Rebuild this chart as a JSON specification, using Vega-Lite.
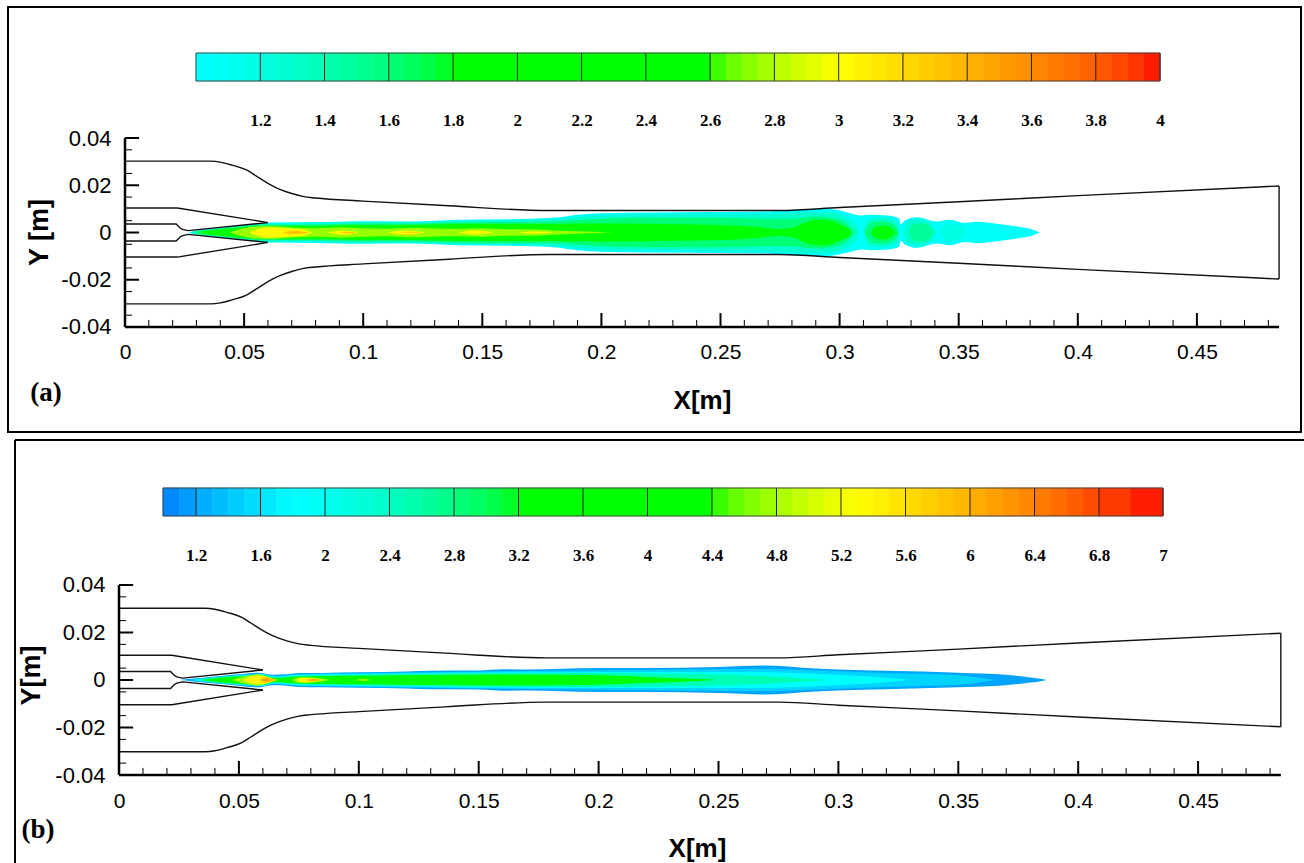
{
"$schema":"https://vega.github.io/schema/vega-lite/v6.json",
"padding":{"left":7,"top":6,"right":0,"bottom":0},
"background":"white",
"spacing":5,
"config":{"view":{"stroke":null},"axis":{"grid":false,"ticks":false,"domain":false,"labelColor":"black","titleColor":"black"}},
"resolve":{"scale":{"color":"independent","stroke":"independent"}},
"datasets":{
"walls":[
{"x":0,"y":0.0302,"curve":"outerTop"},{"x":0.036,"y":0.0302,"curve":"outerTop"},{"x":0.04,"y":0.0298,"curve":"outerTop"},{"x":0.045,"y":0.0285,"curve":"outerTop"},{"x":0.051,"y":0.0265,"curve":"outerTop"},{"x":0.055,"y":0.024,"curve":"outerTop"},{"x":0.06,"y":0.0208,"curve":"outerTop"},{"x":0.064,"y":0.0187,"curve":"outerTop"},{"x":0.07,"y":0.0165,"curve":"outerTop"},{"x":0.075,"y":0.0152,"curve":"outerTop"},{"x":0.08,"y":0.0146,"curve":"outerTop"},{"x":0.1,"y":0.0133,"curve":"outerTop"},{"x":0.136,"y":0.0113,"curve":"outerTop"},{"x":0.178,"y":0.0093,"curve":"outerTop"},{"x":0.275,"y":0.0093,"curve":"outerTop"},{"x":0.3,"y":0.0106,"curve":"outerTop"},{"x":0.35,"y":0.013,"curve":"outerTop"},{"x":0.4,"y":0.0156,"curve":"outerTop"},{"x":0.4845,"y":0.0197,"curve":"outerTop"},
{"x":0,"y":-0.0302,"curve":"outerBottom"},{"x":0.036,"y":-0.0302,"curve":"outerBottom"},{"x":0.04,"y":-0.0298,"curve":"outerBottom"},{"x":0.045,"y":-0.0285,"curve":"outerBottom"},{"x":0.051,"y":-0.0265,"curve":"outerBottom"},{"x":0.055,"y":-0.024,"curve":"outerBottom"},{"x":0.06,"y":-0.0208,"curve":"outerBottom"},{"x":0.064,"y":-0.0187,"curve":"outerBottom"},{"x":0.07,"y":-0.0165,"curve":"outerBottom"},{"x":0.075,"y":-0.0152,"curve":"outerBottom"},{"x":0.08,"y":-0.0146,"curve":"outerBottom"},{"x":0.1,"y":-0.0133,"curve":"outerBottom"},{"x":0.136,"y":-0.0113,"curve":"outerBottom"},{"x":0.178,"y":-0.0093,"curve":"outerBottom"},{"x":0.275,"y":-0.0093,"curve":"outerBottom"},{"x":0.3,"y":-0.0106,"curve":"outerBottom"},{"x":0.35,"y":-0.013,"curve":"outerBottom"},{"x":0.4,"y":-0.0156,"curve":"outerBottom"},{"x":0.4845,"y":-0.0197,"curve":"outerBottom"},
{"x":0.4845,"y":0.0197,"curve":"outlet"},{"x":0.4845,"y":-0.0197,"curve":"outlet"},
{"x":0,"y":0.0104,"curve":"nozzleTop"},{"x":0.022,"y":0.0104,"curve":"nozzleTop"},{"x":0.06,"y":0.0042,"curve":"nozzleTop"},
{"x":0,"y":-0.0104,"curve":"nozzleBottom"},{"x":0.022,"y":-0.0104,"curve":"nozzleBottom"},{"x":0.06,"y":-0.0042,"curve":"nozzleBottom"},
{"x":0,"y":0.0036,"curve":"innerTop"},{"x":0.0215,"y":0.0036,"curve":"innerTop"},{"x":0.0225,"y":0.0025,"curve":"innerTop"},{"x":0.0235,"y":0.0016,"curve":"innerTop"},{"x":0.0245,"y":0.0012,"curve":"innerTop"},{"x":0.0265,"y":0.0008,"curve":"innerTop"},{"x":0.06,"y":0.0042,"curve":"innerTop"},
{"x":0,"y":-0.0036,"curve":"innerBottom"},{"x":0.0215,"y":-0.0036,"curve":"innerBottom"},{"x":0.0225,"y":-0.0025,"curve":"innerBottom"},{"x":0.0235,"y":-0.0016,"curve":"innerBottom"},{"x":0.0245,"y":-0.0012,"curve":"innerBottom"},{"x":0.0265,"y":-0.0008,"curve":"innerBottom"},{"x":0.06,"y":-0.0042,"curve":"innerBottom"}
],
"xMajor":[{"x":0},{"x":0.05},{"x":0.1},{"x":0.15},{"x":0.2},{"x":0.25},{"x":0.3},{"x":0.35},{"x":0.4},{"x":0.45}],
"xMinor":[{"x":0.01},{"x":0.02},{"x":0.03},{"x":0.04},{"x":0.06},{"x":0.07},{"x":0.08},{"x":0.09},{"x":0.11},{"x":0.12},{"x":0.13},{"x":0.14},{"x":0.16},{"x":0.17},{"x":0.18},{"x":0.19},{"x":0.21},{"x":0.22},{"x":0.23},{"x":0.24},{"x":0.26},{"x":0.27},{"x":0.28},{"x":0.29},{"x":0.31},{"x":0.32},{"x":0.33},{"x":0.34},{"x":0.36},{"x":0.37},{"x":0.38},{"x":0.39},{"x":0.41},{"x":0.42},{"x":0.43},{"x":0.44},{"x":0.46},{"x":0.47},{"x":0.48}],
"yMajor":[{"y":-0.04},{"y":-0.02},{"y":0},{"y":0.02},{"y":0.04}],
"yMinor":[{"y":-0.035},{"y":-0.025},{"y":-0.015},{"y":-0.005},{"y":0.005},{"y":0.015},{"y":0.025},{"y":0.035}],
"axisLines":[{"x":0,"x2":0.4845,"y":-0.04,"y2":-0.04},{"x":0,"x2":0,"y":-0.04,"y2":0.04}],
"jetA":[
{"blob":"a1","level":1.05,"x":0.0265,"y":0,"y2":0},{"blob":"a1","level":1.05,"x":0.03,"y":0.0008,"y2":-0.0008},{"blob":"a1","level":1.05,"x":0.04,"y":0.0019,"y2":-0.0019},{"blob":"a1","level":1.05,"x":0.05,"y":0.003,"y2":-0.003},{"blob":"a1","level":1.05,"x":0.06,"y":0.0042,"y2":-0.0042},{"blob":"a1","level":1.05,"x":0.08,"y":0.0044,"y2":-0.0044},{"blob":"a1","level":1.05,"x":0.1,"y":0.0048,"y2":-0.0048},{"blob":"a1","level":1.05,"x":0.12,"y":0.0047,"y2":-0.0047},{"blob":"a1","level":1.05,"x":0.14,"y":0.0054,"y2":-0.0054},{"blob":"a1","level":1.05,"x":0.16,"y":0.0056,"y2":-0.0056},{"blob":"a1","level":1.05,"x":0.18,"y":0.0062,"y2":-0.0062},{"blob":"a1","level":1.05,"x":0.19,"y":0.0075,"y2":-0.0075},{"blob":"a1","level":1.05,"x":0.2,"y":0.0082,"y2":-0.0082},{"blob":"a1","level":1.05,"x":0.22,"y":0.0085,"y2":-0.0085},{"blob":"a1","level":1.05,"x":0.25,"y":0.0087,"y2":-0.0087},{"blob":"a1","level":1.05,"x":0.27,"y":0.0089,"y2":-0.0089},{"blob":"a1","level":1.05,"x":0.285,"y":0.0098,"y2":-0.0098},{"blob":"a1","level":1.05,"x":0.295,"y":0.0099,"y2":-0.0099},{"blob":"a1","level":1.05,"x":0.303,"y":0.0086,"y2":-0.0086},{"blob":"a1","level":1.05,"x":0.309,"y":0.0072,"y2":-0.0072},{"blob":"a1","level":1.05,"x":0.313,"y":0.0075,"y2":-0.0075},{"blob":"a1","level":1.05,"x":0.32,"y":0.0072,"y2":-0.0072},{"blob":"a1","level":1.05,"x":0.325,"y":0.006,"y2":-0.006},{"blob":"a1","level":1.05,"x":0.3256,"y":0.0035,"y2":-0.0035},{"blob":"a1","level":1.05,"x":0.3275,"y":0.0052,"y2":-0.0052},{"blob":"a1","level":1.05,"x":0.3325,"y":0.0065,"y2":-0.0065},{"blob":"a1","level":1.05,"x":0.3408,"y":0.0047,"y2":-0.0047},{"blob":"a1","level":1.05,"x":0.3463,"y":0.0054,"y2":-0.0054},{"blob":"a1","level":1.05,"x":0.3526,"y":0.004,"y2":-0.004},{"blob":"a1","level":1.05,"x":0.3576,"y":0.0045,"y2":-0.0045},{"blob":"a1","level":1.05,"x":0.366,"y":0.0037,"y2":-0.0037},{"blob":"a1","level":1.05,"x":0.3745,"y":0.0025,"y2":-0.0025},{"blob":"a1","level":1.05,"x":0.3812,"y":0.0012,"y2":-0.0012},{"blob":"a1","level":1.05,"x":0.3841,"y":0,"y2":0},
{"blob":"a2","level":1.3,"x":0.028,"y":0.0004,"y2":-0.0004},{"blob":"a2","level":1.3,"x":0.04,"y":0.0018,"y2":-0.0018},{"blob":"a2","level":1.3,"x":0.06,"y":0.0037,"y2":-0.0037},{"blob":"a2","level":1.3,"x":0.08,"y":0.0038,"y2":-0.0038},{"blob":"a2","level":1.3,"x":0.1,"y":0.0043,"y2":-0.0043},{"blob":"a2","level":1.3,"x":0.12,"y":0.0042,"y2":-0.0042},{"blob":"a2","level":1.3,"x":0.14,"y":0.0048,"y2":-0.0048},{"blob":"a2","level":1.3,"x":0.16,"y":0.005,"y2":-0.005},{"blob":"a2","level":1.3,"x":0.18,"y":0.0055,"y2":-0.0055},{"blob":"a2","level":1.3,"x":0.19,"y":0.0066,"y2":-0.0066},{"blob":"a2","level":1.3,"x":0.2,"y":0.0072,"y2":-0.0072},{"blob":"a2","level":1.3,"x":0.22,"y":0.0075,"y2":-0.0075},{"blob":"a2","level":1.3,"x":0.25,"y":0.0077,"y2":-0.0077},{"blob":"a2","level":1.3,"x":0.27,"y":0.0079,"y2":-0.0079},{"blob":"a2","level":1.3,"x":0.285,"y":0.0086,"y2":-0.0086},{"blob":"a2","level":1.3,"x":0.295,"y":0.0086,"y2":-0.0086},{"blob":"a2","level":1.3,"x":0.303,"y":0.0062,"y2":-0.0062},{"blob":"a2","level":1.3,"x":0.3075,"y":0.002,"y2":-0.002},{"blob":"a2","level":1.3,"x":0.308,"y":0,"y2":0},
{"blob":"a2b","level":1.3,"x":0.31,"y":0,"y2":0},{"blob":"a2b","level":1.3,"x":0.312,"y":0.0055,"y2":-0.0055},{"blob":"a2b","level":1.3,"x":0.318,"y":0.0062,"y2":-0.0062},{"blob":"a2b","level":1.3,"x":0.324,"y":0.0046,"y2":-0.0046},{"blob":"a2b","level":1.3,"x":0.3252,"y":0,"y2":0},
{"blob":"a2c","level":1.3,"x":0.327,"y":0,"y2":0},{"blob":"a2c","level":1.3,"x":0.329,"y":0.005,"y2":-0.005},{"blob":"a2c","level":1.3,"x":0.333,"y":0.0055,"y2":-0.0055},{"blob":"a2c","level":1.3,"x":0.338,"y":0.0042,"y2":-0.0042},{"blob":"a2c","level":1.3,"x":0.3405,"y":0,"y2":0},
{"blob":"a2d","level":1.2,"x":0.342,"y":0,"y2":0},{"blob":"a2d","level":1.2,"x":0.346,"y":0.0038,"y2":-0.0038},{"blob":"a2d","level":1.2,"x":0.351,"y":0.0025,"y2":-0.0025},{"blob":"a2d","level":1.2,"x":0.353,"y":0,"y2":0},
{"blob":"a3","level":1.6,"x":0.03,"y":0.0006,"y2":-0.0006},{"blob":"a3","level":1.6,"x":0.04,"y":0.0016,"y2":-0.0016},{"blob":"a3","level":1.6,"x":0.06,"y":0.0033,"y2":-0.0033},{"blob":"a3","level":1.6,"x":0.08,"y":0.0033,"y2":-0.0033},{"blob":"a3","level":1.6,"x":0.1,"y":0.0038,"y2":-0.0038},{"blob":"a3","level":1.6,"x":0.12,"y":0.0037,"y2":-0.0037},{"blob":"a3","level":1.6,"x":0.14,"y":0.0043,"y2":-0.0043},{"blob":"a3","level":1.6,"x":0.16,"y":0.0044,"y2":-0.0044},{"blob":"a3","level":1.6,"x":0.18,"y":0.0046,"y2":-0.0046},{"blob":"a3","level":1.6,"x":0.2,"y":0.0058,"y2":-0.0058},{"blob":"a3","level":1.6,"x":0.22,"y":0.0062,"y2":-0.0062},{"blob":"a3","level":1.6,"x":0.25,"y":0.0062,"y2":-0.0062},{"blob":"a3","level":1.6,"x":0.27,"y":0.0058,"y2":-0.0058},{"blob":"a3","level":1.6,"x":0.28,"y":0.0058,"y2":-0.0058},{"blob":"a3","level":1.6,"x":0.29,"y":0.0068,"y2":-0.0068},{"blob":"a3","level":1.6,"x":0.3,"y":0.0055,"y2":-0.0055},{"blob":"a3","level":1.6,"x":0.305,"y":0.0018,"y2":-0.0018},{"blob":"a3","level":1.6,"x":0.3065,"y":0,"y2":0},
{"blob":"a3b","level":1.6,"x":0.3105,"y":0,"y2":0},{"blob":"a3b","level":1.6,"x":0.3135,"y":0.0042,"y2":-0.0042},{"blob":"a3b","level":1.6,"x":0.318,"y":0.0048,"y2":-0.0048},{"blob":"a3b","level":1.6,"x":0.323,"y":0.0032,"y2":-0.0032},{"blob":"a3b","level":1.6,"x":0.325,"y":0,"y2":0},
{"blob":"a3c","level":1.5,"x":0.329,"y":0,"y2":0},{"blob":"a3c","level":1.5,"x":0.331,"y":0.0035,"y2":-0.0035},{"blob":"a3c","level":1.5,"x":0.335,"y":0.0038,"y2":-0.0038},{"blob":"a3c","level":1.5,"x":0.338,"y":0.0022,"y2":-0.0022},{"blob":"a3c","level":1.5,"x":0.3395,"y":0,"y2":0},
{"blob":"a4","level":1.9,"x":0.032,"y":0.0005,"y2":-0.0005},{"blob":"a4","level":1.9,"x":0.04,"y":0.0014,"y2":-0.0014},{"blob":"a4","level":1.9,"x":0.06,"y":0.0029,"y2":-0.0029},{"blob":"a4","level":1.9,"x":0.08,"y":0.0029,"y2":-0.0029},{"blob":"a4","level":1.9,"x":0.1,"y":0.0032,"y2":-0.0032},{"blob":"a4","level":1.9,"x":0.12,"y":0.0032,"y2":-0.0032},{"blob":"a4","level":1.9,"x":0.14,"y":0.0036,"y2":-0.0036},{"blob":"a4","level":1.9,"x":0.16,"y":0.0036,"y2":-0.0036},{"blob":"a4","level":1.9,"x":0.18,"y":0.0036,"y2":-0.0036},{"blob":"a4","level":1.9,"x":0.19,"y":0.0038,"y2":-0.0038},{"blob":"a4","level":1.9,"x":0.21,"y":0.0038,"y2":-0.0038},{"blob":"a4","level":1.9,"x":0.23,"y":0.0035,"y2":-0.0035},{"blob":"a4","level":1.9,"x":0.25,"y":0.0032,"y2":-0.0032},{"blob":"a4","level":1.9,"x":0.265,"y":0.0024,"y2":-0.0024},{"blob":"a4","level":1.9,"x":0.275,"y":0.0015,"y2":-0.0015},{"blob":"a4","level":1.9,"x":0.281,"y":0.0022,"y2":-0.0022},{"blob":"a4","level":1.9,"x":0.285,"y":0.004,"y2":-0.004},{"blob":"a4","level":1.9,"x":0.29,"y":0.0054,"y2":-0.0054},{"blob":"a4","level":1.9,"x":0.295,"y":0.0053,"y2":-0.0053},{"blob":"a4","level":1.9,"x":0.3,"y":0.0035,"y2":-0.0035},{"blob":"a4","level":1.9,"x":0.3045,"y":0.0008,"y2":-0.0008},{"blob":"a4","level":1.9,"x":0.305,"y":0,"y2":0},
{"blob":"a4c","level":1.85,"x":0.313,"y":0,"y2":0},{"blob":"a4c","level":1.85,"x":0.3155,"y":0.0025,"y2":-0.0025},{"blob":"a4c","level":1.85,"x":0.3185,"y":0.003,"y2":-0.003},{"blob":"a4c","level":1.85,"x":0.322,"y":0.0018,"y2":-0.0018},{"blob":"a4c","level":1.85,"x":0.3235,"y":0,"y2":0},
{"blob":"a5","level":2.75,"x":0.044,"y":0,"y2":0},{"blob":"a5","level":2.75,"x":0.05,"y":0.0018,"y2":-0.0018},{"blob":"a5","level":2.75,"x":0.06,"y":0.0028,"y2":-0.0028},{"blob":"a5","level":2.75,"x":0.065,"y":0.0025,"y2":-0.0025},{"blob":"a5","level":2.75,"x":0.07,"y":0.0021,"y2":-0.0021},{"blob":"a5","level":2.75,"x":0.08,"y":0.0018,"y2":-0.0018},{"blob":"a5","level":2.75,"x":0.09,"y":0.0021,"y2":-0.0021},{"blob":"a5","level":2.75,"x":0.1,"y":0.0018,"y2":-0.0018},{"blob":"a5","level":2.75,"x":0.11,"y":0.0016,"y2":-0.0016},{"blob":"a5","level":2.75,"x":0.12,"y":0.002,"y2":-0.002},{"blob":"a5","level":2.75,"x":0.13,"y":0.0017,"y2":-0.0017},{"blob":"a5","level":2.75,"x":0.14,"y":0.0016,"y2":-0.0016},{"blob":"a5","level":2.75,"x":0.15,"y":0.0018,"y2":-0.0018},{"blob":"a5","level":2.75,"x":0.16,"y":0.0014,"y2":-0.0014},{"blob":"a5","level":2.75,"x":0.17,"y":0.0014,"y2":-0.0014},{"blob":"a5","level":2.75,"x":0.18,"y":0.0009,"y2":-0.0009},{"blob":"a5","level":2.75,"x":0.19,"y":0.0005,"y2":-0.0005},{"blob":"a5","level":2.75,"x":0.205,"y":0,"y2":0},
{"blob":"a6","level":3.05,"x":0.052,"y":0,"y2":0},{"blob":"a6","level":3.05,"x":0.056,"y":0.0015,"y2":-0.0015},{"blob":"a6","level":3.05,"x":0.06,"y":0.0021,"y2":-0.0021},{"blob":"a6","level":3.05,"x":0.066,"y":0.0019,"y2":-0.0019},{"blob":"a6","level":3.05,"x":0.074,"y":0.0014,"y2":-0.0014},{"blob":"a6","level":3.05,"x":0.079,"y":0,"y2":0},
{"blob":"a6b","level":3.05,"x":0.085,"y":0,"y2":0},{"blob":"a6b","level":3.05,"x":0.092,"y":0.0009,"y2":-0.0009},{"blob":"a6b","level":3.05,"x":0.098,"y":0,"y2":0},
{"blob":"a6c","level":3.05,"x":0.11,"y":0,"y2":0},{"blob":"a6c","level":3.05,"x":0.118,"y":0.0009,"y2":-0.0009},{"blob":"a6c","level":3.05,"x":0.126,"y":0,"y2":0},
{"blob":"a6d","level":3.05,"x":0.14,"y":0,"y2":0},{"blob":"a6d","level":3.05,"x":0.147,"y":0.0008,"y2":-0.0008},{"blob":"a6d","level":3.05,"x":0.155,"y":0,"y2":0},
{"blob":"a6e","level":3.05,"x":0.165,"y":0,"y2":0},{"blob":"a6e","level":3.05,"x":0.172,"y":0.0004,"y2":-0.0004},{"blob":"a6e","level":3.05,"x":0.18,"y":0,"y2":0},
{"blob":"a7","level":3.35,"x":0.066,"y":0,"y2":0},{"blob":"a7","level":3.35,"x":0.071,"y":0.0006,"y2":-0.0006},{"blob":"a7","level":3.35,"x":0.077,"y":0,"y2":0},
{"blob":"a7b","level":3.35,"x":0.09,"y":0,"y2":0},{"blob":"a7b","level":3.35,"x":0.0935,"y":0.0003,"y2":-0.0003},{"blob":"a7b","level":3.35,"x":0.097,"y":0,"y2":0},
{"blob":"a7c","level":3.25,"x":0.116,"y":0,"y2":0},{"blob":"a7c","level":3.25,"x":0.12,"y":0.0003,"y2":-0.0003},{"blob":"a7c","level":3.25,"x":0.124,"y":0,"y2":0}
],
"jetB":[
{"blob":"b1","level":1.2,"x":0.0254,"y":0,"y2":0},{"blob":"b1","level":1.2,"x":0.03,"y":0.0005,"y2":-0.0005},{"blob":"b1","level":1.2,"x":0.04,"y":0.0015,"y2":-0.0015},{"blob":"b1","level":1.2,"x":0.05,"y":0.0024,"y2":-0.0024},{"blob":"b1","level":1.2,"x":0.058,"y":0.0031,"y2":-0.0031},{"blob":"b1","level":1.2,"x":0.06,"y":0.0028,"y2":-0.0028},{"blob":"b1","level":1.2,"x":0.064,"y":0.0022,"y2":-0.0022},{"blob":"b1","level":1.2,"x":0.07,"y":0.0024,"y2":-0.0024},{"blob":"b1","level":1.2,"x":0.075,"y":0.0029,"y2":-0.0029},{"blob":"b1","level":1.2,"x":0.085,"y":0.003,"y2":-0.003},{"blob":"b1","level":1.2,"x":0.1,"y":0.0033,"y2":-0.0033},{"blob":"b1","level":1.2,"x":0.12,"y":0.0036,"y2":-0.0036},{"blob":"b1","level":1.2,"x":0.13,"y":0.0039,"y2":-0.0039},{"blob":"b1","level":1.2,"x":0.15,"y":0.004,"y2":-0.004},{"blob":"b1","level":1.2,"x":0.16,"y":0.0045,"y2":-0.0045},{"blob":"b1","level":1.2,"x":0.17,"y":0.0044,"y2":-0.0044},{"blob":"b1","level":1.2,"x":0.2,"y":0.005,"y2":-0.005},{"blob":"b1","level":1.2,"x":0.22,"y":0.005,"y2":-0.005},{"blob":"b1","level":1.2,"x":0.25,"y":0.0055,"y2":-0.0055},{"blob":"b1","level":1.2,"x":0.27,"y":0.0061,"y2":-0.0061},{"blob":"b1","level":1.2,"x":0.276,"y":0.0059,"y2":-0.0059},{"blob":"b1","level":1.2,"x":0.285,"y":0.0052,"y2":-0.0052},{"blob":"b1","level":1.2,"x":0.3,"y":0.0044,"y2":-0.0044},{"blob":"b1","level":1.2,"x":0.32,"y":0.0039,"y2":-0.0039},{"blob":"b1","level":1.2,"x":0.35,"y":0.0031,"y2":-0.0031},{"blob":"b1","level":1.2,"x":0.37,"y":0.0022,"y2":-0.0022},{"blob":"b1","level":1.2,"x":0.38,"y":0.0011,"y2":-0.0011},{"blob":"b1","level":1.2,"x":0.385,"y":0.0004,"y2":-0.0004},{"blob":"b1","level":1.2,"x":0.3868,"y":0,"y2":0},
{"blob":"b2","level":1.5,"x":0.03,"y":0.0002,"y2":-0.0002},{"blob":"b2","level":1.5,"x":0.04,"y":0.0013,"y2":-0.0013},{"blob":"b2","level":1.5,"x":0.06,"y":0.0026,"y2":-0.0026},{"blob":"b2","level":1.5,"x":0.065,"y":0.0017,"y2":-0.0017},{"blob":"b2","level":1.5,"x":0.075,"y":0.0024,"y2":-0.0024},{"blob":"b2","level":1.5,"x":0.1,"y":0.0028,"y2":-0.0028},{"blob":"b2","level":1.5,"x":0.13,"y":0.0033,"y2":-0.0033},{"blob":"b2","level":1.5,"x":0.16,"y":0.0037,"y2":-0.0037},{"blob":"b2","level":1.5,"x":0.2,"y":0.0041,"y2":-0.0041},{"blob":"b2","level":1.5,"x":0.25,"y":0.0045,"y2":-0.0045},{"blob":"b2","level":1.5,"x":0.27,"y":0.0046,"y2":-0.0046},{"blob":"b2","level":1.5,"x":0.29,"y":0.004,"y2":-0.004},{"blob":"b2","level":1.5,"x":0.32,"y":0.0029,"y2":-0.0029},{"blob":"b2","level":1.5,"x":0.35,"y":0.002,"y2":-0.002},{"blob":"b2","level":1.5,"x":0.365,"y":0,"y2":0},
{"blob":"b3","level":1.85,"x":0.032,"y":0.0003,"y2":-0.0003},{"blob":"b3","level":1.85,"x":0.04,"y":0.0011,"y2":-0.0011},{"blob":"b3","level":1.85,"x":0.06,"y":0.0024,"y2":-0.0024},{"blob":"b3","level":1.85,"x":0.065,"y":0.0014,"y2":-0.0014},{"blob":"b3","level":1.85,"x":0.075,"y":0.0022,"y2":-0.0022},{"blob":"b3","level":1.85,"x":0.1,"y":0.0025,"y2":-0.0025},{"blob":"b3","level":1.85,"x":0.13,"y":0.0029,"y2":-0.0029},{"blob":"b3","level":1.85,"x":0.16,"y":0.0032,"y2":-0.0032},{"blob":"b3","level":1.85,"x":0.2,"y":0.0034,"y2":-0.0034},{"blob":"b3","level":1.85,"x":0.25,"y":0.0034,"y2":-0.0034},{"blob":"b3","level":1.85,"x":0.27,"y":0.0033,"y2":-0.0033},{"blob":"b3","level":1.85,"x":0.29,"y":0.0026,"y2":-0.0026},{"blob":"b3","level":1.85,"x":0.305,"y":0.0019,"y2":-0.0019},{"blob":"b3","level":1.85,"x":0.32,"y":0.0009,"y2":-0.0009},{"blob":"b3","level":1.85,"x":0.33,"y":0,"y2":0},
{"blob":"b4","level":2.5,"x":0.034,"y":0.0003,"y2":-0.0003},{"blob":"b4","level":2.5,"x":0.04,"y":0.0009,"y2":-0.0009},{"blob":"b4","level":2.5,"x":0.06,"y":0.0021,"y2":-0.0021},{"blob":"b4","level":2.5,"x":0.065,"y":0.0011,"y2":-0.0011},{"blob":"b4","level":2.5,"x":0.075,"y":0.0019,"y2":-0.0019},{"blob":"b4","level":2.5,"x":0.1,"y":0.0022,"y2":-0.0022},{"blob":"b4","level":2.5,"x":0.13,"y":0.0026,"y2":-0.0026},{"blob":"b4","level":2.5,"x":0.16,"y":0.0028,"y2":-0.0028},{"blob":"b4","level":2.5,"x":0.2,"y":0.0029,"y2":-0.0029},{"blob":"b4","level":2.5,"x":0.23,"y":0.0026,"y2":-0.0026},{"blob":"b4","level":2.5,"x":0.26,"y":0.002,"y2":-0.002},{"blob":"b4","level":2.5,"x":0.28,"y":0.0011,"y2":-0.0011},{"blob":"b4","level":2.5,"x":0.295,"y":0,"y2":0},
{"blob":"b5","level":3.3,"x":0.036,"y":0.0003,"y2":-0.0003},{"blob":"b5","level":3.3,"x":0.04,"y":0.0007,"y2":-0.0007},{"blob":"b5","level":3.3,"x":0.06,"y":0.0019,"y2":-0.0019},{"blob":"b5","level":3.3,"x":0.065,"y":0.0008,"y2":-0.0008},{"blob":"b5","level":3.3,"x":0.075,"y":0.0015,"y2":-0.0015},{"blob":"b5","level":3.3,"x":0.1,"y":0.0018,"y2":-0.0018},{"blob":"b5","level":3.3,"x":0.13,"y":0.0021,"y2":-0.0021},{"blob":"b5","level":3.3,"x":0.16,"y":0.0023,"y2":-0.0023},{"blob":"b5","level":3.3,"x":0.195,"y":0.0021,"y2":-0.0021},{"blob":"b5","level":3.3,"x":0.22,"y":0.0013,"y2":-0.0013},{"blob":"b5","level":3.3,"x":0.24,"y":0.0005,"y2":-0.0005},{"blob":"b5","level":3.3,"x":0.25,"y":0,"y2":0},
{"blob":"b6","level":4.8,"x":0.047,"y":0,"y2":0},{"blob":"b6","level":4.8,"x":0.052,"y":0.0014,"y2":-0.0014},{"blob":"b6","level":4.8,"x":0.058,"y":0.0024,"y2":-0.0024},{"blob":"b6","level":4.8,"x":0.062,"y":0.0012,"y2":-0.0012},{"blob":"b6","level":4.8,"x":0.066,"y":0,"y2":0},
{"blob":"b6b","level":4.8,"x":0.072,"y":0,"y2":0},{"blob":"b6b","level":4.8,"x":0.076,"y":0.0012,"y2":-0.0012},{"blob":"b6b","level":4.8,"x":0.082,"y":0.0009,"y2":-0.0009},{"blob":"b6b","level":4.8,"x":0.088,"y":0,"y2":0},
{"blob":"b6c","level":4.7,"x":0.099,"y":0,"y2":0},{"blob":"b6c","level":4.7,"x":0.102,"y":0.0005,"y2":-0.0005},{"blob":"b6c","level":4.7,"x":0.105,"y":0,"y2":0},
{"blob":"b7","level":5.4,"x":0.052,"y":0,"y2":0},{"blob":"b7","level":5.4,"x":0.056,"y":0.0016,"y2":-0.0016},{"blob":"b7","level":5.4,"x":0.06,"y":0.0018,"y2":-0.0018},{"blob":"b7","level":5.4,"x":0.063,"y":0.0009,"y2":-0.0009},{"blob":"b7","level":5.4,"x":0.066,"y":0,"y2":0},
{"blob":"b7b","level":5.4,"x":0.074,"y":0,"y2":0},{"blob":"b7b","level":5.4,"x":0.077,"y":0.001,"y2":-0.001},{"blob":"b7b","level":5.4,"x":0.081,"y":0.0006,"y2":-0.0006},{"blob":"b7b","level":5.4,"x":0.084,"y":0,"y2":0},
{"blob":"b8","level":6.1,"x":0.059,"y":0,"y2":0},{"blob":"b8","level":6.1,"x":0.061,"y":0.0009,"y2":-0.0009},{"blob":"b8","level":6.1,"x":0.063,"y":0.0005,"y2":-0.0005},{"blob":"b8","level":6.1,"x":0.0655,"y":0,"y2":0},
{"blob":"b8b","level":6.1,"x":0.078,"y":0,"y2":0},{"blob":"b8b","level":6.1,"x":0.081,"y":0.0004,"y2":-0.0004},{"blob":"b8b","level":6.1,"x":0.084,"y":0,"y2":0}
],
"barA":[
{"low":1,"high":1.05,"value":1.025},{"low":1.05,"high":1.1,"value":1.075},{"low":1.1,"high":1.15,"value":1.125},{"low":1.15,"high":1.2,"value":1.175},{"low":1.2,"high":1.25,"value":1.225},{"low":1.25,"high":1.3,"value":1.275},{"low":1.3,"high":1.35,"value":1.325},{"low":1.35,"high":1.4,"value":1.375},{"low":1.4,"high":1.45,"value":1.425},{"low":1.45,"high":1.5,"value":1.475},{"low":1.5,"high":1.55,"value":1.525},{"low":1.55,"high":1.6,"value":1.575},{"low":1.6,"high":1.65,"value":1.625},{"low":1.65,"high":1.7,"value":1.675},{"low":1.7,"high":1.75,"value":1.725},{"low":1.75,"high":1.8,"value":1.775},
{"low":1.8,"high":2.6,"value":2.2},
{"low":2.6,"high":2.65,"value":2.625},{"low":2.65,"high":2.7,"value":2.675},{"low":2.7,"high":2.75,"value":2.725},{"low":2.75,"high":2.8,"value":2.775},{"low":2.8,"high":2.85,"value":2.825},{"low":2.85,"high":2.9,"value":2.875},{"low":2.9,"high":2.95,"value":2.925},{"low":2.95,"high":3,"value":2.975},
{"low":3,"high":3.05,"value":3.025},{"low":3.05,"high":3.1,"value":3.075},{"low":3.1,"high":3.15,"value":3.125},{"low":3.15,"high":3.2,"value":3.175},{"low":3.2,"high":3.25,"value":3.225},{"low":3.25,"high":3.3,"value":3.275},{"low":3.3,"high":3.35,"value":3.325},{"low":3.35,"high":3.4,"value":3.375},{"low":3.4,"high":3.45,"value":3.425},{"low":3.45,"high":3.5,"value":3.475},{"low":3.5,"high":3.55,"value":3.525},{"low":3.55,"high":3.6,"value":3.575},{"low":3.6,"high":3.65,"value":3.625},{"low":3.65,"high":3.7,"value":3.675},{"low":3.7,"high":3.75,"value":3.725},{"low":3.75,"high":3.8,"value":3.775},{"low":3.8,"high":3.85,"value":3.825},{"low":3.85,"high":3.9,"value":3.875},{"low":3.9,"high":3.95,"value":3.925},{"low":3.95,"high":4,"value":3.975}
],
"barB":[
{"low":1,"high":1.1,"value":1.05},{"low":1.1,"high":1.2,"value":1.15},{"low":1.2,"high":1.3,"value":1.25},{"low":1.3,"high":1.4,"value":1.35},{"low":1.4,"high":1.5,"value":1.45},{"low":1.5,"high":1.6,"value":1.55},{"low":1.6,"high":1.7,"value":1.65},{"low":1.7,"high":1.8,"value":1.75},{"low":1.8,"high":1.9,"value":1.85},{"low":1.9,"high":2,"value":1.95},{"low":2,"high":2.1,"value":2.05},{"low":2.1,"high":2.2,"value":2.15},{"low":2.2,"high":2.3,"value":2.25},{"low":2.3,"high":2.4,"value":2.35},{"low":2.4,"high":2.5,"value":2.45},{"low":2.5,"high":2.6,"value":2.55},{"low":2.6,"high":2.7,"value":2.65},{"low":2.7,"high":2.8,"value":2.75},{"low":2.8,"high":2.9,"value":2.85},{"low":2.9,"high":3,"value":2.95},{"low":3,"high":3.1,"value":3.05},{"low":3.1,"high":3.2,"value":3.15},
{"low":3.2,"high":4.4,"value":3.8},
{"low":4.4,"high":4.5,"value":4.45},{"low":4.5,"high":4.6,"value":4.55},{"low":4.6,"high":4.7,"value":4.65},{"low":4.7,"high":4.8,"value":4.75},{"low":4.8,"high":4.9,"value":4.85},{"low":4.9,"high":5,"value":4.95},{"low":5,"high":5.1,"value":5.05},{"low":5.1,"high":5.2,"value":5.15},{"low":5.2,"high":5.3,"value":5.25},{"low":5.3,"high":5.4,"value":5.35},{"low":5.4,"high":5.5,"value":5.45},{"low":5.5,"high":5.6,"value":5.55},{"low":5.6,"high":5.7,"value":5.65},{"low":5.7,"high":5.8,"value":5.75},{"low":5.8,"high":5.9,"value":5.85},{"low":5.9,"high":6,"value":5.95},{"low":6,"high":6.1,"value":6.05},{"low":6.1,"high":6.2,"value":6.15},{"low":6.2,"high":6.3,"value":6.25},{"low":6.3,"high":6.4,"value":6.35},{"low":6.4,"high":6.5,"value":6.45},{"low":6.5,"high":6.6,"value":6.55},{"low":6.6,"high":6.7,"value":6.65},{"low":6.7,"high":6.8,"value":6.75},{"low":6.8,"high":6.9,"value":6.85},{"low":6.9,"high":7,"value":6.95}
],
"ticksA":[{"at":1.2},{"at":1.4},{"at":1.6},{"at":1.8},{"at":2},{"at":2.2},{"at":2.4},{"at":2.6},{"at":2.8},{"at":3},{"at":3.2},{"at":3.4},{"at":3.6},{"at":3.8},{"at":4}],
"ticksB":[{"at":1.2},{"at":1.6},{"at":2},{"at":2.4},{"at":2.8},{"at":3.2},{"at":3.6},{"at":4},{"at":4.4},{"at":4.8},{"at":5.2},{"at":5.6},{"at":6},{"at":6.4},{"at":6.8},{"at":7}]
},
"vconcat":[
{
"width":1293,"height":425,
"view":{"stroke":"black","strokeWidth":2},
"resolve":{"scale":{"x":"independent","y":"independent"},"axis":{"x":"independent","y":"independent"}},
"layer":[
{
"encoding":{
"x":{"field":"low","type":"quantitative","scale":{"domain":[0.4149,4.4388],"nice":false,"zero":false},"axis":{"values":[1.2,1.4,1.6,1.8,2,2.2,2.4,2.6,2.8,3,3.2,3.4,3.6,3.8,4],"labelExpr":"datum.value + ''","orient":"bottom","offset":-320,"labelPadding":0,"labelFont":"Liberation Serif","labelFontWeight":"bold","labelFontSize":17,"labelOverlap":false,"title":null}},
"y":{"datum":0,"type":"quantitative","scale":{"domain":[-12.536,2.643],"nice":false,"zero":false},"axis":null},
"y2":{"datum":1}
},
"layer":[
{"data":{"name":"barA"},"mark":{"type":"rect","strokeWidth":0.6},"encoding":{
"x2":{"field":"high"},
"color":{"field":"value","type":"quantitative","scale":{"domain":[1,1.8,2.6,3,4],"range":["#00ffff","#00ff00","#00ff00","#ffff00","#ff0000"]},"legend":null},
"stroke":{"field":"value","type":"quantitative","scale":{"domain":[1,1.8,2.6,3,4],"range":["#00ffff","#00ff00","#00ff00","#ffff00","#ff0000"]},"legend":null}}},
{"data":{"name":"ticksA"},"mark":{"type":"rule","color":"#222222","strokeWidth":1},"encoding":{"x":{"field":"at"}}},
{"data":{"values":[{"low":1,"high":4}]},"mark":{"type":"rect","fillOpacity":0,"stroke":"#444444","strokeWidth":1},"encoding":{"x2":{"field":"high"}}}
]
},
{
"encoding":{
"x":{"field":"x","type":"quantitative","scale":{"domain":[-0.04912,0.4937],"nice":false,"zero":false},"axis":{"orient":"bottom","offset":-105,"values":[0,0.05,0.1,0.15,0.2,0.25,0.3,0.35,0.4,0.45],"labelExpr":"datum.value + ''","labelFont":"Liberation Sans","labelFontSize":21,"labelPadding":14,"labelOverlap":false,"title":"X[m]","titleFont":"Liberation Sans","titleFontWeight":"bold","titleFontSize":26,"titleX":694,"titleY":81,"titleBaseline":"alphabetic"}},
"y":{"field":"y","type":"quantitative","scale":{"domain":[-0.08446,0.09547],"nice":false,"zero":false},"axis":{"orient":"left","offset":-117,"values":[-0.04,-0.02,0,0.02,0.04],"labelExpr":"datum.value + ''","labelFont":"Liberation Sans","labelFontSize":22,"labelPadding":14,"labelOverlap":false,"title":"Y [m]","titleFont":"Liberation Sans","titleFontWeight":"bold","titleFontSize":27,"titleX":-78,"titleY":225,"titleAngle":-90,"titleBaseline":"alphabetic"}}
},
"layer":[
{"data":{"name":"jetA"},"mark":{"type":"area","interpolate":"monotone"},"encoding":{"y2":{"field":"y2"},"detail":{"field":"blob"},"color":{"field":"level","type":"quantitative","scale":{"domain":[1,1.8,2.6,3,4],"range":["#00ffff","#00ff00","#00ff00","#ffff00","#ff0000"]},"legend":null}}},
{"data":{"name":"walls"},"transform":[{"filter":"datum.curve === 'outerTop' || datum.curve === 'outerBottom'"}],"mark":{"type":"line","color":"#111111","strokeWidth":1.4,"interpolate":"monotone"},"encoding":{"detail":{"field":"curve"}}},
{"data":{"name":"walls"},"transform":[{"filter":"datum.curve !== 'outerTop' && datum.curve !== 'outerBottom'"}],"mark":{"type":"line","color":"#111111","strokeWidth":1.4},"encoding":{"detail":{"field":"curve"}}},
{"data":{"name":"axisLines"},"mark":{"type":"rule","color":"black","strokeWidth":2.5},"encoding":{"x2":{"field":"x2"},"y2":{"field":"y2"}}},
{"data":{"values":[{"x":-0.0332,"y":-0.068,"label":"(a)"}]},"mark":{"type":"text","font":"Liberation Serif","fontWeight":"bold","fontSize":27,"color":"black"},"encoding":{"text":{"field":"label"}}}
]
},
{
"layer":[
{"data":{"name":"xMajor"},"mark":{"type":"rule","color":"black","strokeWidth":2},"encoding":{"x":{"field":"x","type":"quantitative","scale":{"domain":[-0.04912,0.4937],"nice":false,"zero":false},"axis":null},"y":{"datum":-0.04,"type":"quantitative","scale":{"domain":[-0.08446,0.09547],"nice":false,"zero":false},"axis":null},"y2":{"datum":-0.0341}}},
{"data":{"name":"xMinor"},"mark":{"type":"rule","color":"black","strokeWidth":1},"encoding":{"x":{"field":"x","type":"quantitative","scale":{"domain":[-0.04912,0.4937],"nice":false,"zero":false},"axis":null},"y":{"datum":-0.04,"type":"quantitative","scale":{"domain":[-0.08446,0.09547],"nice":false,"zero":false},"axis":null},"y2":{"datum":-0.037}}},
{"data":{"name":"yMajor"},"mark":{"type":"rule","color":"black","strokeWidth":2},"encoding":{"y":{"field":"y","type":"quantitative","scale":{"domain":[-0.08446,0.09547],"nice":false,"zero":false},"axis":null},"x":{"datum":0,"type":"quantitative","scale":{"domain":[-0.04912,0.4937],"nice":false,"zero":false},"axis":null},"x2":{"datum":0.0059}}},
{"data":{"name":"yMinor"},"mark":{"type":"rule","color":"black","strokeWidth":1},"encoding":{"y":{"field":"y","type":"quantitative","scale":{"domain":[-0.08446,0.09547],"nice":false,"zero":false},"axis":null},"x":{"datum":0,"type":"quantitative","scale":{"domain":[-0.04912,0.4937],"nice":false,"zero":false},"axis":null},"x2":{"datum":0.003}}}
]
}
]
},
{
"width":1297,"height":424,
"resolve":{"scale":{"x":"independent","y":"independent"},"axis":{"x":"independent","y":"independent"}},
"layer":[
{
"encoding":{
"x":{"field":"low","type":"quantitative","scale":{"domain":[0,1,1.2,6.8,7,8],"range":[0,155,188,1091,1155,1297],"nice":false,"zero":false},"axis":{"values":[1.2,1.6,2,2.4,2.8,3.2,3.6,4,4.4,4.8,5.2,5.6,6,6.4,6.8,7],"labelExpr":"datum.value + ''","orient":"bottom","offset":-316,"labelPadding":0,"labelFont":"Liberation Serif","labelFontWeight":"bold","labelFontSize":17,"labelOverlap":false,"title":null}},
"y":{"datum":0,"type":"quantitative","scale":{"domain":[-12.393,2.75],"nice":false,"zero":false},"axis":null},
"y2":{"datum":1}
},
"layer":[
{"data":{"name":"barB"},"mark":{"type":"rect","strokeWidth":0.6},"encoding":{
"x2":{"field":"high"},
"color":{"field":"value","type":"quantitative","scale":{"domain":[1,1.8,3.2,4.4,5.3,7],"range":["#0080ff","#00ffff","#00ff00","#00ff00","#ffff00","#ff0000"]},"legend":null},
"stroke":{"field":"value","type":"quantitative","scale":{"domain":[1,1.8,3.2,4.4,5.3,7],"range":["#0080ff","#00ffff","#00ff00","#00ff00","#ffff00","#ff0000"]},"legend":null}}},
{"data":{"name":"ticksB"},"mark":{"type":"rule","color":"#222222","strokeWidth":1},"encoding":{"x":{"field":"at"}}},
{"data":{"values":[{"low":1,"high":7}]},"mark":{"type":"rect","fillOpacity":0,"stroke":"#444444","strokeWidth":1},"encoding":{"x2":{"field":"high"}}}
]
},
{
"encoding":{
"x":{"field":"x","type":"quantitative","scale":{"domain":[-0.04629,0.49458],"nice":false,"zero":false},"axis":{"orient":"bottom","offset":-88,"values":[0,0.05,0.1,0.15,0.2,0.25,0.3,0.35,0.4,0.45],"labelExpr":"datum.value + ''","labelFont":"Liberation Sans","labelFontSize":21,"labelPadding":15,"labelOverlap":false,"title":"X[m]","titleFont":"Liberation Sans","titleFontWeight":"bold","titleFontSize":26,"titleX":689,"titleY":81,"titleBaseline":"alphabetic"}},
"y":{"field":"y","type":"quantitative","scale":{"domain":[-0.07705,0.10147],"nice":false,"zero":false},"axis":{"orient":"left","offset":-111,"values":[-0.04,-0.02,0,0.02,0.04],"labelExpr":"datum.value + ''","labelFont":"Liberation Sans","labelFontSize":22,"labelPadding":14,"labelOverlap":false,"title":"Y[m]","titleFont":"Liberation Sans","titleFontWeight":"bold","titleFontSize":27,"titleX":-80,"titleY":236,"titleAngle":-90,"titleBaseline":"alphabetic"}}
},
"layer":[
{"data":{"name":"jetB"},"mark":{"type":"area","interpolate":"monotone"},"encoding":{"y2":{"field":"y2"},"detail":{"field":"blob"},"color":{"field":"level","type":"quantitative","scale":{"domain":[1,1.8,3.2,4.4,5.3,7],"range":["#0080ff","#00ffff","#00ff00","#00ff00","#ffff00","#ff0000"]},"legend":null}}},
{"data":{"name":"walls"},"transform":[{"filter":"datum.curve === 'outerTop' || datum.curve === 'outerBottom'"}],"mark":{"type":"line","color":"#111111","strokeWidth":1.4,"interpolate":"monotone"},"encoding":{"detail":{"field":"curve"}}},
{"data":{"name":"walls"},"transform":[{"filter":"datum.curve !== 'outerTop' && datum.curve !== 'outerBottom'"}],"mark":{"type":"line","color":"#111111","strokeWidth":1.4},"encoding":{"detail":{"field":"curve"}}},
{"data":{"name":"axisLines"},"mark":{"type":"rule","color":"black","strokeWidth":2.5},"encoding":{"x2":{"field":"x2"},"y2":{"field":"y2"}}},
{"data":{"values":[{"x":-0.04337,"x2":0.49458,"y":0.1011,"y2":0.1011},{"x":-0.04337,"x2":-0.04337,"y":0.1011,"y2":-0.07705}]},"mark":{"type":"rule","color":"black","strokeWidth":2},"encoding":{"x2":{"field":"x2"},"y2":{"field":"y2"}}},
{"data":{"values":[{"x":-0.0338,"y":-0.0632,"label":"(b)"}]},"mark":{"type":"text","font":"Liberation Serif","fontWeight":"bold","fontSize":27,"color":"black"},"encoding":{"text":{"field":"label"}}}
]
},
{
"layer":[
{"data":{"name":"xMajor"},"mark":{"type":"rule","color":"black","strokeWidth":2},"encoding":{"x":{"field":"x","type":"quantitative","scale":{"domain":[-0.04629,0.49458],"nice":false,"zero":false},"axis":null},"y":{"datum":-0.04,"type":"quantitative","scale":{"domain":[-0.07705,0.10147],"nice":false,"zero":false},"axis":null},"y2":{"datum":-0.0341}}},
{"data":{"name":"xMinor"},"mark":{"type":"rule","color":"black","strokeWidth":1},"encoding":{"x":{"field":"x","type":"quantitative","scale":{"domain":[-0.04629,0.49458],"nice":false,"zero":false},"axis":null},"y":{"datum":-0.04,"type":"quantitative","scale":{"domain":[-0.07705,0.10147],"nice":false,"zero":false},"axis":null},"y2":{"datum":-0.037}}},
{"data":{"name":"yMajor"},"mark":{"type":"rule","color":"black","strokeWidth":2},"encoding":{"y":{"field":"y","type":"quantitative","scale":{"domain":[-0.07705,0.10147],"nice":false,"zero":false},"axis":null},"x":{"datum":0,"type":"quantitative","scale":{"domain":[-0.04629,0.49458],"nice":false,"zero":false},"axis":null},"x2":{"datum":0.0059}}},
{"data":{"name":"yMinor"},"mark":{"type":"rule","color":"black","strokeWidth":1},"encoding":{"y":{"field":"y","type":"quantitative","scale":{"domain":[-0.07705,0.10147],"nice":false,"zero":false},"axis":null},"x":{"datum":0,"type":"quantitative","scale":{"domain":[-0.04629,0.49458],"nice":false,"zero":false},"axis":null},"x2":{"datum":0.003}}}
]
}
]
}
]
}
